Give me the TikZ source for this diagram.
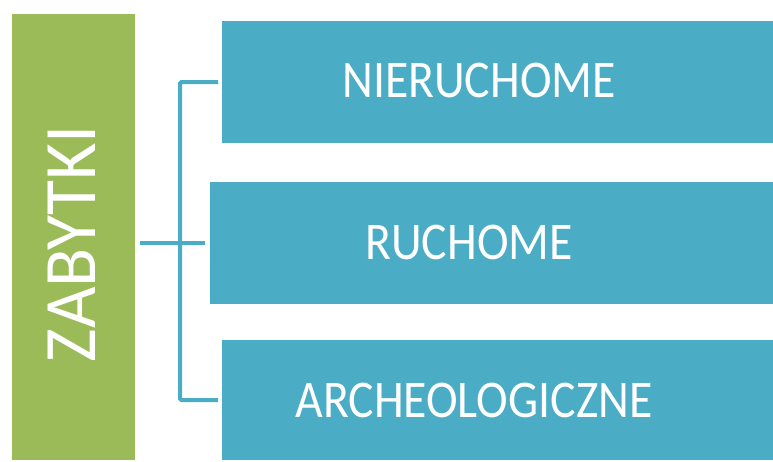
\documentclass[tikz,border=0pt]{standalone}
\usepackage{fontspec}
\setmainfont{Carlito}
\definecolor{zgreen}{HTML}{9BBB59}
\definecolor{zblue}{HTML}{4BACC6}
\newcommand{\sqz}[1]{\scalebox{0.9}[1]{#1}}
\tikzset{
  box/.style={fill=zblue, draw=none, inner sep=0pt, outer sep=0pt},
  gbox/.style={fill=zgreen, draw=none, inner sep=0pt, outer sep=0pt},
  txt/.style={text=white, inner sep=0pt, font=\fontsize{53}{58}\selectfont},
  conn/.style={draw=zblue, line width=4pt},
}
\begin{document}
\begin{tikzpicture}[x=1pt,y=-1pt]
\useasboundingbox (0,0) rectangle (773,461);
\node[gbox, minimum width=123pt, minimum height=446pt] (g) at (73.5,237) {};
\node[box, minimum width=551pt, minimum height=122pt] (t) at (497.5,82) {};
\node[box, minimum width=563pt, minimum height=122pt] (m) at (491.5,243) {};
\node[box, minimum width=551pt, minimum height=120pt] (b) at (497.5,400) {};
\node[txt, rotate=90, font=\fontsize{74}{80}\selectfont] (gt) at (71.5,243.5) {\scalebox{0.97}[1]{ZABYTKI}};
\node[txt] (tt) at (479,80.5) {\sqz{NIERUCHOME}};
\node[txt] (mt) at (469,242) {\sqz{RUCHOME}};
\node[txt] (bt) at (474,400) {\sqz{ARCHEOLOGICZNE}};
\coordinate (bus) at (180,243);
\draw[conn, rounded corners=1.5pt] ([xshift=-4pt]t.west) -| (bus) |- ([xshift=-4pt]b.west);
\draw[conn] ([xshift=5pt]g.east |- m.west) -- ([xshift=-5pt]m.west);
\end{tikzpicture}
\end{document}
